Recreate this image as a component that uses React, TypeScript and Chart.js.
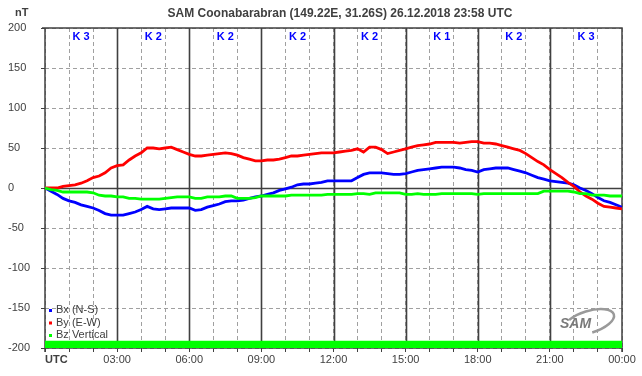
import React, { useEffect, useRef } from "react";
import { Chart, registerables } from "chart.js";

Chart.register(...registerables);

const TITLE = "SAM Coonabarabran (149.22E, 31.26S) 26.12.2018 23:58 UTC";
const UNIT = "nT";
const K_LABELS = ["K 3", "K 2", "K 2", "K 2", "K 2", "K 1", "K 2", "K 3"];
const X_TICK_LABELS: Record<number, string> = { 3: "03:00", 6: "06:00", 9: "09:00", 12: "12:00", 15: "15:00", 18: "18:00", 21: "21:00", 24: "00:00" };
const SERIES_NAMES = ["Bx (N-S)", "By (E-W)", "Bz Vertical"];
const SERIES_COLORS = ["#0000ff", "#ff0000", "#00ff00"];

// hours 0..24 in 15-minute steps
const times: number[] = Array.from({ length: 97 }, (_, i) => i * 0.25);

const bx = [
  0, -4, -8, -13, -16, -18, -21, -23, -25, -28, -32, -34, -34, -34, -32, -30,
  -27, -23, -26, -27, -26, -25, -25, -25, -25, -28, -27, -24, -22, -20, -17, -16,
  -16, -15, -13, -11, -10, -8, -6, -3, -1, 1, 4, 5, 5, 6, 7, 9,
  9, 9, 9, 9, 13, 17, 19, 19, 19, 18, 17, 17, 18, 20, 22, 23,
  24, 25, 26, 26, 26, 25, 23, 22, 20, 23, 24, 25, 25, 25, 23, 21,
  19, 16, 13, 11, 9, 8, 7, 6, 4, 0, -3, -7, -12, -16, -18, -21,
  -24,
];

const by = [
  0, 0, 0, 2, 3, 4, 6, 9, 13, 15, 19, 25, 28, 29, 35, 40,
  44, 50, 50, 49, 50, 51, 48, 45, 42, 40, 40, 41, 42, 43, 44, 43,
  41, 38, 36, 34, 34, 35, 35, 36, 38, 40, 40, 41, 42, 43, 44, 44,
  44, 45, 46, 47, 49, 45, 51, 51, 48, 43, 45, 47, 49, 51, 53, 54,
  55, 57, 57, 57, 57, 56, 57, 58, 58, 56, 56, 55, 53, 51, 49, 47,
  43, 38, 33, 29, 23, 18, 13, 7, 2, -5, -10, -14, -19, -23, -24, -25,
  -26,
];

const bz = [
  0, -2, -3, -5, -5, -5, -5, -5, -6, -9, -10, -10, -11, -11, -13, -13,
  -14, -14, -14, -14, -13, -12, -11, -11, -11, -13, -13, -11, -11, -11, -10, -10,
  -13, -13, -13, -12, -10, -10, -10, -10, -10, -9, -9, -9, -9, -9, -9, -8,
  -8, -8, -8, -8, -7, -7, -8, -6, -6, -6, -6, -6, -8, -8, -7, -8,
  -8, -8, -7, -7, -7, -7, -7, -7, -8, -7, -7, -7, -7, -7, -7, -7,
  -7, -7, -7, -4, -4, -4, -4, -4, -5, -7, -7, -9, -9, -9, -10, -10,
  -10,
];

// data-quality band along the bottom
const bandTimes = [0, 24];
const bandTop = [-191, -191];

const FONT = "Arial, 'Liberation Sans', sans-serif";
const TEXT = "#404040";

const decorations = {
  id: "decorations",
  beforeDatasetsDraw(chart: any) {
    const { ctx, chartArea: a, scales } = chart;
    const x = scales.x;
    const y = scales.y;
    ctx.save();
    ctx.strokeStyle = "#404040";
    ctx.lineWidth = 1.6;
    ctx.setLineDash([]);
    for (let h = 3; h <= 21; h += 3) {
      const px = Math.round(x.getPixelForValue(h)) + 0.5;
      ctx.beginPath();
      ctx.moveTo(px, a.top);
      ctx.lineTo(px, a.bottom);
      ctx.stroke();
    }
    const py0 = Math.round(y.getPixelForValue(0)) + 0.5;
    ctx.beginPath();
    ctx.moveTo(a.left, py0);
    ctx.lineTo(a.right, py0);
    ctx.stroke();
    ctx.lineWidth = 1.5;
    ctx.beginPath();
    ctx.moveTo(a.left - 3, a.top);
    ctx.lineTo(a.right, a.top);
    ctx.lineTo(a.right, a.bottom + 4);
    ctx.stroke();
    ctx.beginPath();
    ctx.moveTo(a.left, a.top);
    ctx.lineTo(a.left, a.bottom + 4);
    ctx.moveTo(a.left, a.bottom);
    ctx.lineTo(a.right, a.bottom);
    ctx.stroke();
    ctx.restore();
  },
  afterDraw(chart: any) {
    const { ctx, chartArea: a, scales } = chart;
    const x = scales.x;
    ctx.save();
    ctx.textBaseline = "middle";
    // title
    ctx.fillStyle = TEXT;
    ctx.font = `bold 12px ${FONT}`;
    ctx.textAlign = "center";
    ctx.fillText(TITLE, 340, 14);
    // unit
    ctx.font = `bold 11px ${FONT}`;
    ctx.textAlign = "left";
    ctx.fillText(UNIT, 15, 13);
    // UTC label
    ctx.fillText("UTC", a.left, 360);
    // K labels
    ctx.fillStyle = "#0000ff";
    ctx.font = `bold 11px ${FONT}`;
    ctx.textAlign = "center";
    K_LABELS.forEach((k, i) => {
      ctx.fillText(k, x.getPixelForValue(i * 3 + 1.5), 37);
    });
    // legend
    ctx.font = `11px ${FONT}`;
    ctx.textAlign = "left";
    SERIES_NAMES.forEach((n, i) => {
      const ly = 310 + i * 12.5;
      ctx.fillStyle = SERIES_COLORS[i];
      ctx.fillRect(49, ly - 1, 3, 3);
      ctx.fillStyle = TEXT;
      ctx.fillText(n, 56, ly);
    });
    // SAM logo
    ctx.strokeStyle = "#9a9a9a";
    ctx.lineWidth = 2.5;
    ctx.beginPath();
    ctx.ellipse(589, 322, 26, 11, -0.3, -Math.PI * 0.75, Math.PI * 0.5);
    ctx.stroke();
    ctx.fillStyle = "#7a7a7a";
    ctx.font = `italic bold 14px ${FONT}`;
    ctx.textAlign = "left";
    ctx.fillText("SAM", 560, 324);
    ctx.restore();
  },
};

export default function App() {
  const ref = useRef<HTMLCanvasElement | null>(null);
  useEffect(() => {
    document.body.style.margin = "0";
    const canvas = ref.current!;
    const mk = (vals: number[]) => vals.map((v, i) => ({ x: times[i], y: v }));
    const chart = new Chart(canvas, {
      type: "line",
      data: {
        datasets: [
          {
            label: "band",
            data: bandTop.map((v, i) => ({ x: bandTimes[i], y: v })),
            borderWidth: 0,
            borderColor: "rgba(0,0,0,0)",
            backgroundColor: "#00ff00",
            fill: "start",
            pointRadius: 0,
            order: 5,
          },
          { label: SERIES_NAMES[0], data: mk(bx), borderColor: SERIES_COLORS[0], borderWidth: 2.8, pointRadius: 0, tension: 0, order: 3 },
          { label: SERIES_NAMES[1], data: mk(by), borderColor: SERIES_COLORS[1], borderWidth: 2.8, pointRadius: 0, tension: 0, order: 2 },
          { label: SERIES_NAMES[2], data: mk(bz), borderColor: SERIES_COLORS[2], borderWidth: 2.8, pointRadius: 0, tension: 0, order: 1 },
        ],
      },
      options: {
        responsive: false,
        animation: false,
        layout: { padding: { left: 8, top: 28, right: 20, bottom: 0 } },
        plugins: { legend: { display: false }, title: { display: false }, tooltip: { enabled: false } },
        scales: {
          x: {
            type: "linear",
            min: 0,
            max: 24,
            afterFit: (s: any) => { s.height = 28; },
            ticks: {
              stepSize: 1,
              autoSkip: false,
              maxRotation: 0,
              padding: 1,
              color: TEXT,
              font: { family: FONT, size: 11 },
              callback: (v: any) => X_TICK_LABELS[Number(v)] ?? "",
            },
            grid: { color: "#a0a0a0", lineWidth: 1, tickLength: 4, tickColor: "#404040", tickWidth: 1 },
            border: { display: false, dash: [4, 3] },
          },
          y: {
            min: -200,
            max: 200,
            afterFit: (s: any) => { s.width = 37; },
            ticks: {
              stepSize: 50,
              crossAlign: "far",
              color: TEXT,
              font: { family: FONT, size: 11 },
            },
            grid: { color: "#a0a0a0", lineWidth: 1, tickLength: 4, tickColor: "#404040", tickWidth: 1 },
            border: { display: false, dash: [4, 3] },
          },
        },
      },
      plugins: [decorations],
    });
    return () => chart.destroy();
  }, []);
  return (
    <div style={{ width: 642, height: 376, background: "#fff" }}>
      <canvas ref={ref} width={642} height={376} />
    </div>
  );
}
